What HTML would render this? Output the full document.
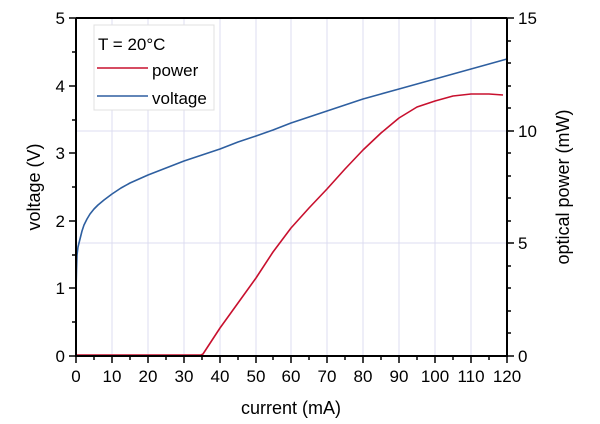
<!DOCTYPE html>
<html><head><meta charset="utf-8"><style>body{margin:0;background:#fff}svg{display:block;font-family:"Liberation Sans",sans-serif}</style></head><body>
<svg width="600" height="424" viewBox="0 0 600 424">
<g stroke="#dcdcf0" stroke-width="1">
<line x1="112" y1="18" x2="112" y2="356"/><line x1="148" y1="18" x2="148" y2="356"/><line x1="184" y1="18" x2="184" y2="356"/><line x1="220" y1="18" x2="220" y2="356"/><line x1="256" y1="18" x2="256" y2="356"/><line x1="291" y1="18" x2="291" y2="356"/><line x1="327" y1="18" x2="327" y2="356"/><line x1="363" y1="18" x2="363" y2="356"/><line x1="399" y1="18" x2="399" y2="356"/><line x1="435" y1="18" x2="435" y2="356"/><line x1="471" y1="18" x2="471" y2="356"/>
<line x1="76" y1="131" x2="507" y2="131"/><line x1="76" y1="243" x2="507" y2="243"/>
</g>
<rect x="94" y="25" width="120" height="85" fill="#fff" stroke="#e0e0e0"/>
<text x="98" y="50" font-size="17">T = 20°C</text>
<line x1="97" y1="68" x2="148" y2="68" stroke="#c8102e" stroke-width="1.5"/>
<text x="152" y="76" font-size="17">power</text>
<line x1="97" y1="96" x2="148" y2="96" stroke="#2e5fa0" stroke-width="1.5"/>
<text x="152" y="104" font-size="17">voltage</text>
<polyline fill="none" stroke="#2e5fa0" stroke-width="1.6" stroke-linejoin="round" points="76,292 76.5,270 77,255 78,247 80,239 82,231 84,225 87,219 90,214 94,209 98,205 104,200 112,194 121,188 130,183 139,179 148,175 166,168 184,161 202,155 220,149 238,142 256,136 273,130 291,123 309,117 327,111 345,105 363,99 381,94 399,89 417,84 435,79 453,74 471,69 489,64 507,59"/>
<polyline fill="none" stroke="#c8102e" stroke-width="1.6" stroke-linejoin="round" points="76,355 201,355 203,354 220,328 238,303 256,278 273,252 291,228 309,208 327,189 345,169 363,150 381,133 399,118 417,107 435,101 453,96 471,94 489,94 503,95"/>
<g stroke="#000" stroke-width="2" fill="none">
<line x1="76" y1="18" x2="507" y2="18"/><line x1="76" y1="18" x2="76" y2="357"/><line x1="507" y1="18" x2="507" y2="357"/><line x1="75" y1="356" x2="508" y2="356"/>
</g>
<g stroke="#000" stroke-width="1.5">
<path d="M76 356v7M112 356v7M148 356v7M184 356v7M220 356v7M256 356v7M291 356v7M327 356v7M363 356v7M399 356v7M435 356v7M471 356v7M507 356v7"/>
<path d="M94 356v4M130 356v4M166 356v4M202 356v4M238 356v4M273 356v4M309 356v4M345 356v4M381 356v4M417 356v4M453 356v4M489 356v4"/>
<path d="M76 356h-7M76 288h-7M76 221h-7M76 153h-7M76 86h-7M76 18h-7"/>
<path d="M76 322h-4M76 255h-4M76 187h-4M76 120h-4M76 52h-4"/>
<path d="M507 356h7M507 243h7M507 131h7M507 18h7"/>
<path d="M507 333h4M507 311h4M507 288h4M507 266h4M507 221h4M507 198h4M507 176h4M507 153h4M507 108h4M507 86h4M507 63h4M507 41h4"/>
</g>
<g font-size="17" text-anchor="middle">
<text x="76" y="382">0</text><text x="112" y="382">10</text><text x="148" y="382">20</text><text x="184" y="382">30</text><text x="220" y="382">40</text><text x="256" y="382">50</text><text x="291" y="382">60</text><text x="327" y="382">70</text><text x="363" y="382">80</text><text x="399" y="382">90</text><text x="435" y="382">100</text><text x="471" y="382">110</text><text x="507" y="382">120</text>
</g>
<g font-size="17" text-anchor="end">
<text x="65" y="362">0</text><text x="65" y="294">1</text><text x="65" y="227">2</text><text x="65" y="159">3</text><text x="65" y="92">4</text><text x="65" y="24">5</text>
</g>
<g font-size="17">
<text x="518" y="362">0</text><text x="518" y="249">5</text><text x="518" y="137">10</text><text x="518" y="24">15</text>
</g>
<text x="291" y="414" font-size="18" text-anchor="middle">current (mA)</text>
<text transform="translate(40,187) rotate(-90)" font-size="18" text-anchor="middle">voltage (V)</text>
<text transform="translate(569,187) rotate(-90)" font-size="18" text-anchor="middle">optical power (mW)</text>
</svg>
</body></html>
